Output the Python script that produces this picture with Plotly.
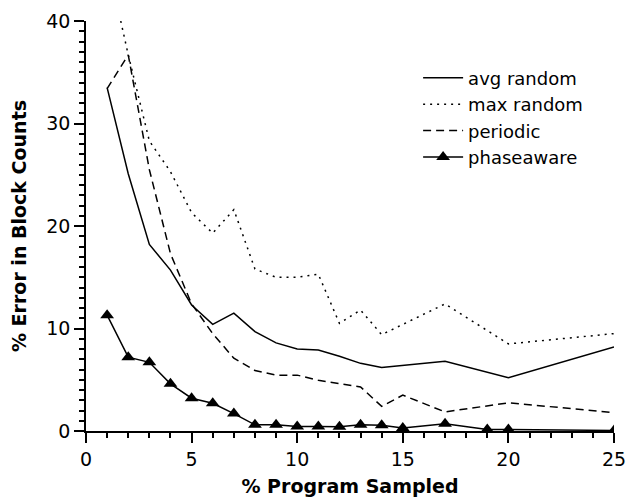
import plotly.graph_objects as go

# ---- data ----
avg_x = [1, 2, 3, 4, 5, 6, 7, 8, 9, 10, 11, 12, 13, 14, 17, 20, 25]
avg_y = [33.5, 25.1, 18.2, 15.7, 12.3, 10.4, 11.5, 9.7, 8.6, 8.0, 7.9, 7.3, 6.6, 6.2, 6.8, 5.2, 8.2]

max_x = [1, 2, 3, 4, 5, 6, 7, 8, 9, 10, 11, 12, 13, 14, 17, 20, 25]
max_y = [46.0, 36.7, 28.3, 25.3, 21.3, 19.3, 21.6, 15.8, 15.0, 15.0, 15.3, 10.5, 11.8, 9.4, 12.4, 8.5, 9.5]

per_x = [1, 2, 3, 4, 5, 6, 7, 8, 9, 10, 11, 12, 13, 14, 15, 17, 20, 25]
per_y = [33.4, 36.7, 25.5, 17.3, 12.4, 9.5, 7.1, 5.9, 5.45, 5.45, 4.95, 4.6, 4.3, 2.4, 3.5, 1.86, 2.75, 1.8]

pha_x = [1, 2, 3, 4, 5, 6, 7, 8, 9, 10, 11, 12, 13, 14, 15, 17, 19, 20, 25]
pha_y = [11.3, 7.2, 6.7, 4.6, 3.2, 2.7, 1.7, 0.6, 0.6, 0.45, 0.45, 0.42, 0.6, 0.55, 0.3, 0.7, 0.15, 0.15, 0.05]

names = ["avg random", "max random", "periodic", "phaseaware"]

FONT = "DejaVu Sans"

fig = go.Figure()
fig.add_trace(go.Scatter(x=avg_x, y=avg_y, mode="lines", name=names[0],
                         line=dict(color="black", width=1.5)))
fig.add_trace(go.Scatter(x=max_x, y=max_y, mode="lines", name=names[1],
                         line=dict(color="black", width=1.5, dash="2px,5px")))
fig.add_trace(go.Scatter(x=per_x, y=per_y, mode="lines", name=names[2],
                         line=dict(color="black", width=1.5, dash="8px,5px")))
fig.add_trace(go.Scatter(x=pha_x, y=pha_y, mode="lines+markers", name=names[3],
                         line=dict(color="black", width=1.5),
                         marker=dict(symbol="triangle-up", size=12, color="black")))

axis_common = dict(
    showgrid=False, zeroline=False, showline=True, linecolor="black", linewidth=1.5,
    ticks="outside", ticklen=10, tickwidth=1.5, tickcolor="black", automargin=False,
    tickfont=dict(family=FONT, size=19, color="black"),
)

fig.update_xaxes(range=[0, 25], tick0=0, dtick=5,
                 minor=dict(dtick=1, ticks="outside", ticklen=5, tickwidth=1.5, tickcolor="black"),
                 title=dict(text="<b>% Program Sampled</b>", font=dict(family=FONT, size=19, color="black")),
                 **axis_common)
fig.update_yaxes(range=[0, 40], tick0=0, dtick=10,
                 minor=dict(dtick=1, ticks="outside", ticklen=5, tickwidth=1.5, tickcolor="black"),
                 title=dict(text="<b>% Error in Block Counts</b>", font=dict(family=FONT, size=19, color="black")),
                 **axis_common)

fig.update_layout(
    width=629, height=497,
    margin=dict(l=86, r=15, t=21, b=66),
    paper_bgcolor="white", plot_bgcolor="white",
    font=dict(family=FONT, size=19, color="black"),
    showlegend=True,
    legend=dict(x=0.629, y=0.906, xanchor="left", yanchor="top",
                bgcolor="rgba(0,0,0,0)", borderwidth=0,
                font=dict(family=FONT, size=18, color="black"),
                tracegroupgap=0, itemwidth=40),
)

fig.write_html("out.html")
